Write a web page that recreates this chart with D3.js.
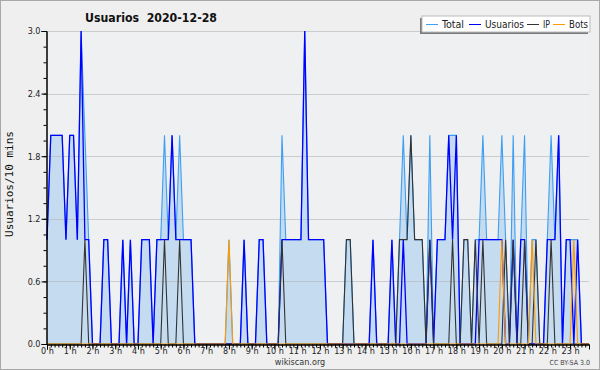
<!DOCTYPE html>
<html>
<head>
<meta charset="utf-8">
<script src="https://cdn.jsdelivr.net/npm/d3@7"></script>
<style>
body { margin: 0; background: #efefef; }
svg { display: block; }
</style>
</head>
<body>
<div id="chart"></div>
<script>
// 10 minute buckets, 144 per day
var usuarios = [1,2,2,2,2,1,2,2,1,3, 1,1,0,0,0,1,1,0,0,0, 1,0,1,0,0,1,1,1,0,1,
  1,1,1,2,1,1,1,1,1,0, 0,0,0,0,0,0,0,0,0,0, 0,0,1,0,0,0,1,1,0,0,
  0,0,1,1,1,1,1,1,3,1, 1,1,1,1,0,0,0,0,0,0, 0,0,0,0,0,0,1,0,0,0,
  0,1,0,0,1,0,0,0,0,0, 0,1,0,1,1,1,2,1,2,0, 0,0,0,0,1,1,1,1,1,1,
  1,0,0,1,0,1,1,0,0,0, 0,0,1,1,1,2,0,1,1,0, 1,0,0,0];
var ip = [0,0,0,0,0,0,0,0,0,0, 1,0,0,0,0,0,0,0,0,0, 0,0,0,0,0,0,0,0,0,0,
  0,1,0,0,0,1,0,0,0,0, 0,0,0,0,0,0,0,0,0,0, 0,0,0,0,0,0,0,0,0,0,
  0,0,1,0,0,0,0,0,0,0, 0,0,0,0,0,0,0,0,0,1, 1,0,0,0,0,0,0,0,0,0,
  0,0,0,1,1,1,2,1,1,1, 0,1,0,0,0,0,0,1,0,0, 1,1,0,1,0,1,0,0,0,0,
  0,1,0,1,0,0,1,0,0,1, 0,0,0,1,0,0,0,0,0,0, 0,0,0,0];
var bots = [0,0,0,0,0,0,0,0,0,0, 0,0,0,0,0,0,0,0,0,0, 0,0,0,0,0,0,0,0,0,0,
  0,0,0,0,0,0,0,0,0,0, 0,0,0,0,0,0,0,0,1,0, 0,0,0,0,0,0,0,0,0,0,
  0,0,0,0,0,0,0,0,0,0, 0,0,0,0,0,0,0,0,0,0, 0,0,0,0,0,0,0,0,0,0,
  0,0,0,0,0,0,0,0,0,0, 0,0,0,0,0,0,0,0,0,0, 0,0,0,0,0,0,0,0,0,0,
  1,0,0,0,0,0,0,0,1,0, 0,0,0,0,0,0,0,0,0,1, 0,0,0,0];
var total = usuarios.map(function (u, i) { return u + ip[i] + bots[i]; });

var yTicks = [0, 0.6, 1.2, 1.8, 2.4, 3.0];
var hourLabels = d3.range(24).map(function (h) { return h + " h"; });
var legendNames = ["Total", "Usuarios", "IP", "Bots"];
var legendColors = ["#3d9ef2", "#0000ff", "#333333", "#ff9900"];

var width = 600, height = 370;
var narrow = "'DejaVu Sans Condensed', 'Liberation Sans', sans-serif";
var svg = d3.select("#chart").append("svg")
    .attr("width", width)
    .attr("height", height)
    .style("font-family", narrow);

svg.append("rect")
    .attr("x", 0.5).attr("y", 0.5)
    .attr("width", width - 1).attr("height", height - 1)
    .style("fill", "#efefef")
    .style("stroke", "#a8a8a8");

var x = d3.scaleLinear().domain([0, 143]).range([47, 589]);
var y = d3.scaleLinear().domain([0, 3]).range([344, 31]);

svg.append("rect")
    .attr("x", 46).attr("y", 31)
    .attr("width", 543).attr("height", 313)
    .style("fill", "#eef0f2");

var area = d3.area()
    .x(function (d, i) { return x(i); })
    .y0(y(0))
    .y1(function (d) { return y(d); });
var line = d3.line()
    .x(function (d, i) { return x(i); })
    .y(function (d) { return y(d); });

svg.append("path")
    .datum(total)
    .attr("d", area)
    .style("fill", "#c5dcf0");

// grid
svg.append("g").selectAll("line")
    .data(yTicks.slice(1))
    .enter().append("line")
    .attr("x1", 46).attr("x2", 589)
    .attr("y1", function (d) { return Math.round(y(d)) + 0.5; })
    .attr("y2", function (d) { return Math.round(y(d)) + 0.5; })
    .style("stroke", "#b4b4b4")
    .style("stroke-opacity", 0.6);

var series = [total, usuarios, ip, bots];
series.forEach(function (s, k) {
    svg.append("path")
        .datum(s)
        .attr("d", line)
        .style("fill", "none")
        .style("stroke", legendColors[k])
        .style("stroke-width", k == 1 ? 1.3 : 1.1)
        .style("stroke-linejoin", "miter");
});

// axes
var yMinor = d3.axisLeft(y).tickValues(d3.range(0, 3.01, 0.15)).tickSize(3).tickFormat("");
var yAxis = d3.axisLeft(y).tickValues(yTicks).tickSize(5).tickPadding(1).tickFormat(d3.format(".1f"));
var xMinor = d3.axisBottom(x).tickValues(d3.range(0, 144)).tickSize(3).tickFormat("");
var xAxis = d3.axisBottom(x).tickValues(d3.range(0, 144, 6)).tickSize(5).tickPadding(-2)
    .tickFormat(function (d) { return hourLabels[d / 6]; });

svg.append("g").attr("transform", "translate(46.5,0)").call(yMinor);
var gy = svg.append("g").attr("transform", "translate(46.5,0)").call(yAxis);
svg.append("g").attr("transform", "translate(0,344.5)").call(xMinor);
var gx = svg.append("g").attr("transform", "translate(0,344.5)").call(xAxis);
svg.selectAll(".domain").style("stroke", "#000");
svg.selectAll(".tick line").style("stroke", "#000");
gy.selectAll("text").style("font-family", narrow).style("font-size", "9px").style("fill", "#222");
gx.selectAll("text").style("font-family", narrow).style("font-size", "9px").style("fill", "#222");

// title
svg.append("text")
    .attr("x", 85).attr("y", 22)
    .attr("textLength", 132)
    .attr("lengthAdjust", "spacingAndGlyphs")
    .style("font-family", "'DejaVu Sans', sans-serif")
    .style("font-size", "12px")
    .style("font-weight", "bold")
    .style("fill", "#111")
    .attr("xml:space", "preserve")
    .text("Usuarios  2020-12-28");

svg.append("text")
    .attr("transform", "translate(13,184) rotate(-90)")
    .attr("text-anchor", "middle")
    .style("font-family", "'DejaVu Sans Mono', monospace")
    .style("font-size", "11px")
    .style("fill", "#111")
    .text("Usuarios/10 mins");

svg.append("text")
    .attr("x", 300).attr("y", 365)
    .attr("text-anchor", "middle")
    .style("font-size", "9px")
    .style("fill", "#333")
    .text("wikiscan.org");

svg.append("text")
    .attr("x", 590).attr("y", 365)
    .attr("text-anchor", "end")
    .style("font-size", "7px")
    .style("fill", "#444")
    .text("CC BY-SA 3.0");

// legend
var legend = svg.append("g");
legend.append("rect")
    .attr("x", 420).attr("y", 18)
    .attr("width", 168).attr("height", 16)
    .style("fill", "#7a7a7a");
legend.append("rect")
    .attr("x", 422).attr("y", 16)
    .attr("width", 168).attr("height", 16)
    .style("fill", "#fff")
    .style("stroke", "#bbb");
var legendX = [426, 469, 527, 553];
var legendW = [22, 39, 7, 19];
legendNames.forEach(function (n, k) {
    legend.append("line")
        .attr("x1", legendX[k]).attr("x2", legendX[k] + 12)
        .attr("y1", 24.5).attr("y2", 24.5)
        .style("stroke", legendColors[k]);
    legend.append("text")
        .attr("x", legendX[k] + 16).attr("y", 28)
        .attr("textLength", legendW[k])
        .attr("lengthAdjust", "spacingAndGlyphs")
        .style("font-size", "10px")
        .style("fill", "#222")
        .text(n);
});
</script>
</body>
</html>
